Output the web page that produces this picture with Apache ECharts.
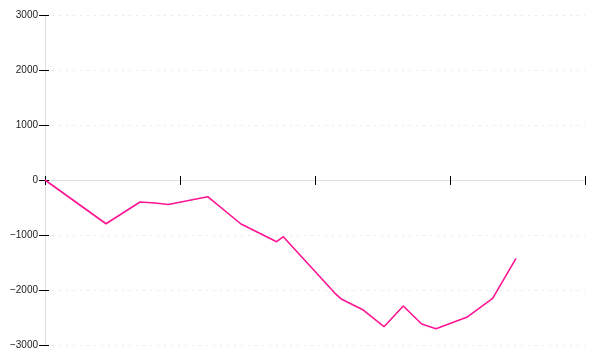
<!DOCTYPE html>
<html>
<head>
<meta charset="utf-8">
<script src="https://cdn.jsdelivr.net/npm/echarts@6/dist/echarts.min.js"></script>
<style>
html,body{margin:0;padding:0;background:#fff;}
#chart{width:600px;height:360px;}
</style>
</head>
<body>
<div id="chart"></div>
<script>
var xValues = [0, 45.2, 70.4, 81.5, 91.3, 120.5, 145.2, 171.6, 176.5, 214.8, 219.8, 235.8, 251.1, 265.4, 279, 289.6, 312.4, 331.6, 348.9];
var yValues = [0, -795, -400, -418, -445, -304, -800, -1122, -1031, -2060, -2169, -2364, -2667, -2291, -2618, -2704, -2496, -2151, -1424];
var yTicks = [-3000, -2000, -1000, 0, 1000, 2000, 3000];

var seriesData = xValues.map(function (x, i) { return [x, yValues[i]]; });
var labelFont = { fontFamily: 'Liberation Sans', fontSize: 10, color: '#222' };

var chart = echarts.init(document.getElementById('chart'));
chart.setOption({
  animation: false,
  backgroundColor: '#fff',
  grid: { left: 45, right: 15, top: 15, bottom: 15, containLabel: false },
  xAxis: [
    {
      type: 'value', min: 0, max: 400, interval: 100,
      axisLine: { show: true, onZero: true, lineStyle: { color: '#dddddd', width: 1 } },
      axisTick: { show: true, inside: false, length: 5, lineStyle: { color: '#000', width: 1 } },
      axisLabel: { show: false },
      splitLine: { show: false }
    },
    {
      type: 'value', min: 0, max: 400, interval: 100, position: 'bottom',
      axisLine: { show: false, onZero: true },
      axisTick: { show: true, inside: true, length: 4, lineStyle: { color: '#000', width: 1 } },
      axisLabel: { show: false },
      splitLine: { show: false }
    }
  ],
  yAxis: [
    {
      type: 'value', min: yTicks[0], max: yTicks[yTicks.length - 1], interval: 1000,
      axisLine: { show: true, lineStyle: { color: '#dddddd', width: 1 } },
      axisTick: { show: true, inside: false, length: 6, lineStyle: { color: '#000', width: 1 } },
      axisLabel: Object.assign({ margin: 7, formatter: function (v) { return String(v).replace('-', '\u2212'); } }, labelFont),
      splitLine: { show: true, lineStyle: { color: '#e8e8e8', width: 1, type: [2, 5] } }
    },
    {
      type: 'value', min: yTicks[0], max: yTicks[yTicks.length - 1], interval: 1000, position: 'left', offset: 0,
      axisLine: { show: false },
      axisTick: { show: true, inside: true, length: 4, lineStyle: { color: '#000', width: 1 } },
      axisLabel: { show: false },
      splitLine: { show: false }
    }
  ],
  series: [{
    type: 'line',
    xAxisIndex: 0,
    yAxisIndex: 0,
    data: seriesData,
    showSymbol: false,
    symbol: 'none',
    smooth: false,
    lineStyle: { color: '#ff1493', width: 1.6 }
  }]
});
</script>
</body>
</html>
